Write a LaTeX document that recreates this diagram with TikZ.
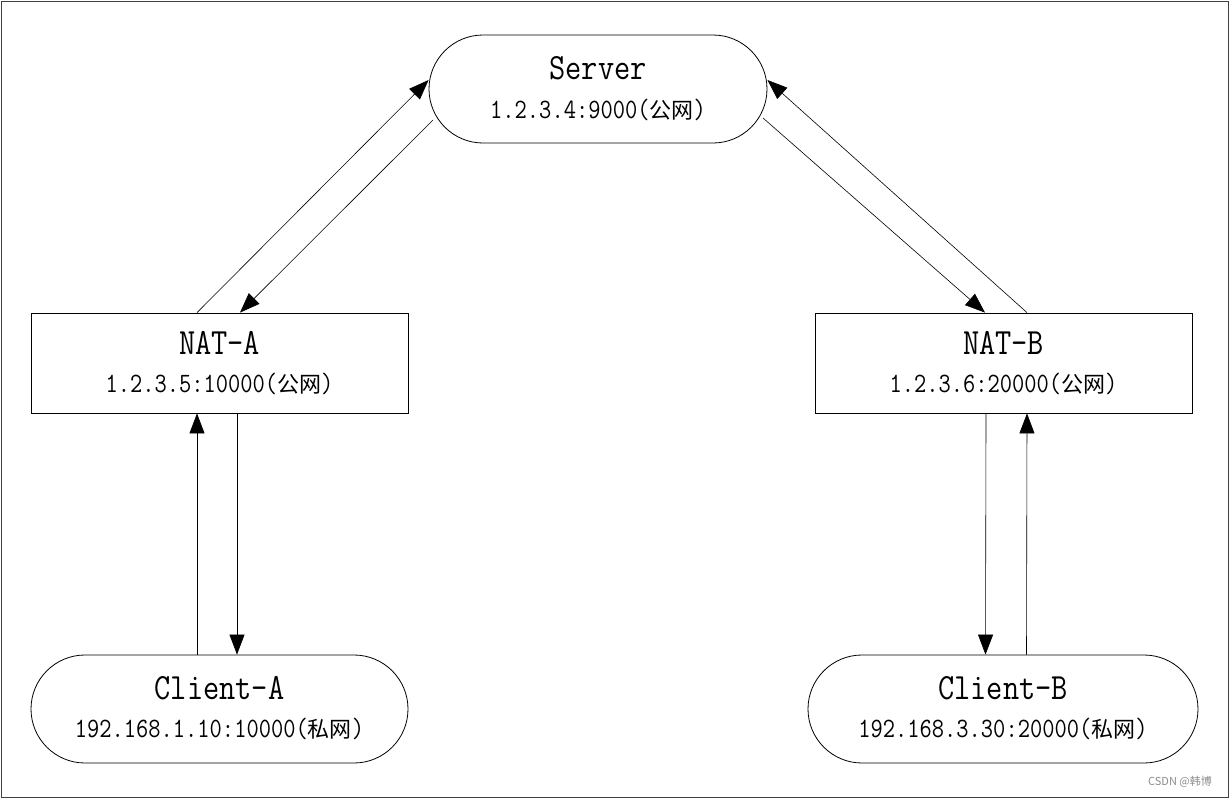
\documentclass[tikz,border=0pt]{standalone}
\usepackage{fontspec}
\usetikzlibrary{arrows.meta}
\newfontfamily\monofnt[FakeStretch=0.85]{Latin Modern Mono}
\newfontfamily\cjkfnt{Noto Sans CJK SC}
\newcommand{\cnt}[1]{{\cjkfnt\fontsize{22}{24}\selectfont #1}}
\tikzset{
  capsule/.style={draw, line width=0.8pt, rounded corners=54pt, minimum height=108pt, inner sep=0pt},
  natbox/.style={draw, line width=0.8pt, minimum width=377pt, minimum height=100pt, inner sep=0pt},
  titletext/.style={font=\monofnt\fontsize{37}{40}\selectfont, inner sep=0pt},
  addrtext/.style={font=\monofnt\fontsize{28}{30}\selectfont, inner sep=0pt},
  flow/.style={line width=0.6pt, -{Triangle[length=20pt,width=15pt]}},
}
\begin{document}
\begin{tikzpicture}[x=1pt,y=-1pt]
\useasboundingbox (0,0) rectangle (1229,798);
\draw[line width=1pt, black!75] (1,1) rectangle (1228,797);

\node[capsule, minimum width=338pt] (server) at (598,89) {};
\node[natbox] (natA) at (219.5,363) {};
\node[natbox] (natB) at (1003.5,363) {};
\node[capsule, minimum width=377pt] (cliA) at (219.5,709) {};
\node[capsule, minimum width=390pt] (cliB) at (1003,709) {};

\node[titletext] (serverT) at ([yshift=21pt]server.center) {Server};
\node[addrtext] (serverA) at ([yshift=-21pt]server.center) {1.2.3.4:9000(\cnt{公网})};
\node[titletext] (natAT) at ([yshift=20pt]natA.center) {NAT-A};
\node[addrtext] (natAA) at ([yshift=-21pt]natA.center) {1.2.3.5:10000(\cnt{公网})};
\node[titletext] (natBT) at ([yshift=20pt]natB.center) {NAT-B};
\node[addrtext] (natBA) at ([yshift=-21pt]natB.center) {1.2.3.6:20000(\cnt{公网})};
\node[titletext] (cliAT) at ([yshift=21pt]cliA.center) {Client-A};
\node[addrtext] (cliAA) at ([yshift=-20pt]cliA.center) {192.168.1.10:10000(\cnt{私网})};
\node[titletext] (cliBT) at ([yshift=21pt]cliB.center) {Client-B};
\node[addrtext] (cliBA) at ([yshift=-20pt]cliB.center) {192.168.3.30:20000(\cnt{私网})};

% NAT-A <-> Server
\draw[flow] ([xshift=-22.5pt]natA.north) -- ([yshift=9pt]server.west);
\draw[flow] ([xshift=-165pt,yshift=-31pt]server.center) -- ([xshift=20.5pt]natA.north);
% NAT-B <-> Server
\draw[flow] ([xshift=23.5pt]natB.north) -- ([yshift=9pt]server.east);
\draw[flow] ([xshift=165pt,yshift=-29pt]server.center) -- ([xshift=-18.5pt]natB.north);
% Client-A <-> NAT-A
\draw[flow] ([xshift=-22.5pt]cliA.north) -- ([xshift=-22.5pt]natA.south);
\draw[flow] ([xshift=17.5pt]natA.south) -- ([xshift=17.5pt]cliA.north);
% Client-B <-> NAT-B
\draw[flow] ([xshift=-17.5pt]natB.south) -- ([xshift=-17.5pt]cliB.north);
\draw[flow] ([xshift=23.5pt]cliB.north) -- ([xshift=23.5pt]natB.south);

\node[font=\cjkfnt\fontsize{11}{12}\selectfont, text=black!45, inner sep=0pt] (wm) at (1180,782) {CSDN @韩博};
\end{tikzpicture}
\end{document}
